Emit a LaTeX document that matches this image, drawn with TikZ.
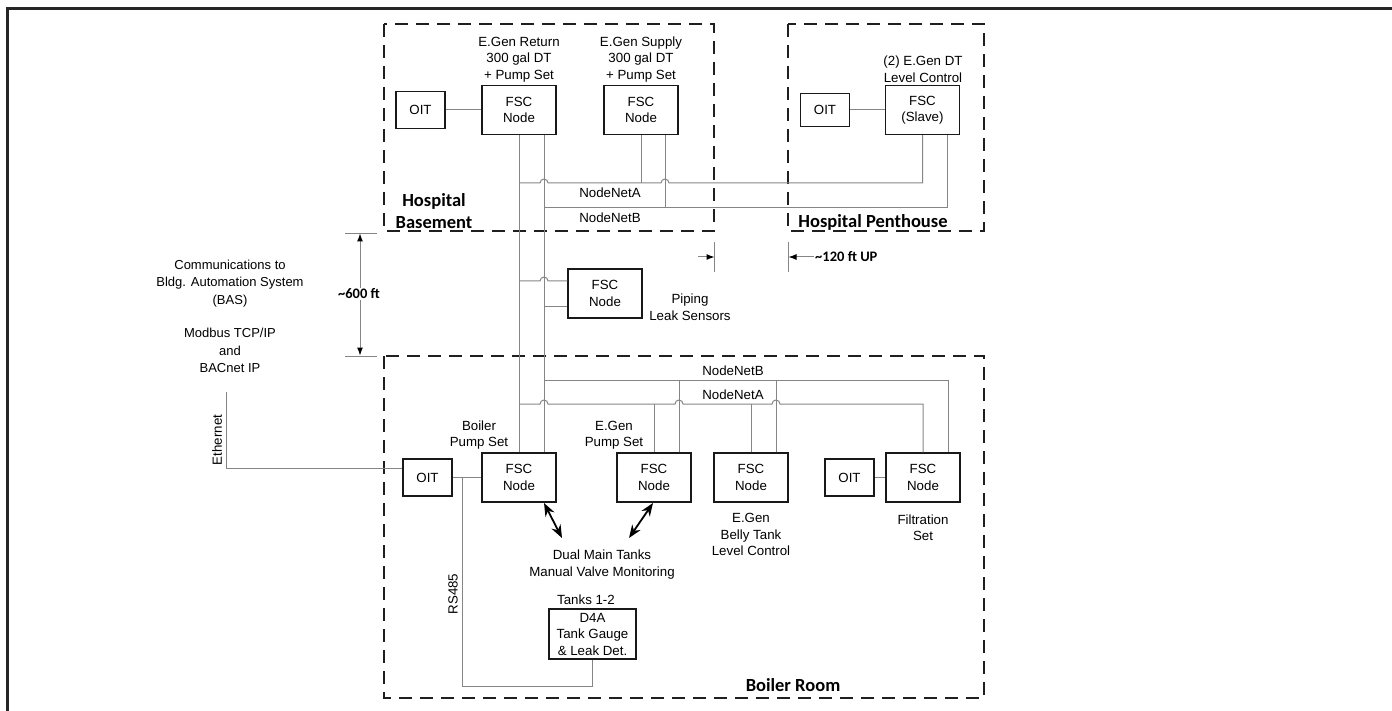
\documentclass[tikz,border=0pt]{standalone}
\usepackage{fontspec}
\setmainfont{Liberation Sans}
\newfontfamily\titlefont{Carlito}
\usetikzlibrary{arrows.meta,calc}
\begin{document}
\begin{tikzpicture}[x=1pt,y=-1pt,
  box/.style={draw=black!90,line width=1.2pt,fill=white,inner sep=0pt,align=center,font=\fontsize{13.3}{16.5}\selectfont},
  fsc/.style={box,minimum width=74pt,minimum height=49pt},
  oit/.style={box,minimum width=49pt,minimum height=37pt},
  lbl/.style={align=center,font=\fontsize{13.3}{16.5}\selectfont,inner sep=0pt},
  lblw/.style={lbl,font=\fontsize{13}{17.5}\selectfont},
  ttl/.style={align=center,inner sep=0pt,font=\titlefont\bfseries\fontsize{18.5}{22}\selectfont},
  dimtxt/.style={inner sep=1pt,fill=white,font=\titlefont\bfseries\fontsize{14.5}{16}\selectfont},
  area/.style={draw=black!88,line width=1.2pt,dash pattern=on 13pt off 8pt},
  wire/.style={draw=black!48,line width=1pt},
  ext/.style={draw=black!48,line width=0.9pt},
  dimarr/.style={wire,-{Latex[length=8pt,width=6pt,color=black]}},
  dbl/.style={draw=black,line width=1.8pt,{Stealth[length=13pt,width=10pt]}-{Stealth[length=13pt,width=10pt]}}
]
\useasboundingbox (0,0) rectangle (1392,711);
% outer frame
\draw[line width=3pt,draw=black!85,line join=miter] (7,711) -- (7,8.5) -- (1392,8.5);

% areas
\draw[area] (384,24) rectangle (714,231);
\draw[area] (788,24) rectangle (984,231);
\draw[area] (384,356) rectangle (984,698);

\node[ttl] (tBase) at (434,211) {Hospital\\Basement};
\node[ttl] (tPent) at (873,222) {Hospital Penthouse};
\node[ttl] (tBoil) at (793,685) {Boiler Room};

% ---------- Hospital Basement ----------
\node[oit] (oitA) at (420.5,110) {OIT};
\node[fsc] (fscRet) at (519,110) {FSC\\Node};
\node[fsc] (fscSup) at (641,110) {FSC\\Node};
\node[lbl] (lRet) at (519,59.5) {E.Gen Return\\300 gal DT\\+ Pump Set};
\node[lbl] (lSup) at (641,59.5) {E.Gen Supply\\300 gal DT\\+ Pump Set};

% ---------- Hospital Penthouse ----------
\node[oit,minimum height=33pt] (oitP) at (825,110) {OIT};
\node[fsc] (fscSl) at (922.5,110) {FSC\\(Slave)};
\node[lbl] (lSl) at (923,69) {(2) E.Gen DT\\Level Control};

\draw[wire] (oitA) -- (fscRet);
\draw[wire] (oitP) -- (fscSl);

% net rows
\coordinate (yA1) at (0,183);
\coordinate (yB1) at (0,208);
\coordinate (yA2) at (0,404);
\coordinate (yB2) at (0,380);

% ---------- Boiler Room nodes ----------
\node[oit] (oitB) at (427.5,477.5) {OIT};
\node[fsc] (fscBoil) at (519,477.5) {FSC\\Node};
\node[fsc] (fscGen) at (654,477.5) {FSC\\Node};
\node[fsc] (fscBelly) at (751,477.5) {FSC\\Node};
\node[oit] (oitF) at (849.5,477.5) {OIT};
\node[fsc] (fscFilt) at (923,477.5) {FSC\\Node};

\node[lbl] (lBoil) at (479,435) {Boiler\\Pump Set};
\node[lbl] (lGen) at (614,435) {E.Gen\\Pump Set};
\node[lbl] (lBelly) at (751,534.5) {E.Gen\\Belly Tank\\Level Control};
\node[lbl] (lFilt) at (923,527.5) {Filtration\\Set};
\node[lbl] (lDual) at (602,564.5) {Dual Main Tanks\\Manual Valve Monitoring};

\node[lbl] (lTanks) at (586,600) {Tanks 1-2};
\node[box,minimum width=87pt,minimum height=50pt] (d4a) at (592.5,634) {D4A\\Tank Gauge\\\&~Leak Det.};

% ---------- Piping leak sensors ----------
\node[fsc] (fscPipe) at (605,293.5) {FSC\\Node};
\node[lbl] (lPipe) at (690,307) {Piping\\Leak Sensors};

% trunks
\draw[wire] (fscRet.south) -- (fscBoil.north);
\draw[wire] ([xshift=25pt]fscRet.south) -- ([xshift=25pt]fscBoil.north);

% basement NodeNetA (jumps over 544 and 665)
\draw[wire] (fscRet.south |- yA1) -- (540,183) arc[start angle=180,end angle=0,radius=4pt]
  -- (661,183) arc[start angle=180,end angle=0,radius=4pt]
  -- (fscSl.south |- yA1) -- (fscSl.south);
\draw[wire] (fscSup.south) -- (fscSup.south |- yA1);
% basement NodeNetB
\draw[wire] ([xshift=25pt]fscRet.south |- yB1) -- ([xshift=25pt]fscSl.south |- yB1) -- ([xshift=25pt]fscSl.south);
\draw[wire] ([xshift=24pt]fscSup.south) -- ([xshift=24pt]fscSup.south |- yB1);
\node[lbl] (nA1) at (610,193) {NodeNetA};
\node[lbl] (nB1) at (610,218) {NodeNetB};

% piping leak connections
\draw[wire] (fscRet.south |- 0,281) -- (540,281) arc[start angle=180,end angle=0,radius=4pt] -- (fscPipe.west |- 0,281);
\draw[wire] ([xshift=25pt]fscRet.south |- 0,307) -- (fscPipe.west |- 0,307);

% boiler NodeNetB
\draw[wire] ([xshift=25pt]fscBoil.north |- yB2) -- ([xshift=25pt]fscFilt.north |- yB2) -- ([xshift=25pt]fscFilt.north);
\draw[wire] ([xshift=25pt]fscGen.north) -- ([xshift=25pt]fscGen.north |- yB2);
\draw[wire] ([xshift=25pt]fscBelly.north) -- ([xshift=25pt]fscBelly.north |- yB2);
% boiler NodeNetA
\draw[wire] (fscBoil.north |- yA2) -- (540,404) arc[start angle=180,end angle=0,radius=4pt]
  -- (675,404) arc[start angle=180,end angle=0,radius=4pt]
  -- (772,404) arc[start angle=180,end angle=0,radius=4pt]
  -- (fscFilt.north |- yA2) -- (fscFilt.north);
\draw[wire] (fscGen.north) -- (fscGen.north |- yA2);
\draw[wire] (fscBelly.north) -- (fscBelly.north |- yA2);
\node[lbl] (nB2) at (733,371) {NodeNetB};
\node[lbl] (nA2) at (733,395) {NodeNetA};

% OIT links in boiler room
\draw[wire] (oitB) -- (fscBoil);
\draw[wire] (oitF) -- (fscFilt);

% RS485
\coordinate (jRS) at (462,477.5);
\coordinate (yRS) at (0,686);
\draw[wire] (jRS) -- (jRS |- yRS) -- (d4a.south |- yRS) -- (d4a.south);
\node[lbl,rotate=90] (tRS) at (453,594) {RS485};

% Ethernet
\coordinate (eth) at (226,392);
\draw[wire] (eth) -- (eth |- 0,468) -- ([yshift=9.5pt]oitB.west);
\node[lbl,rotate=90] (tEth) at (217,440) {Ethernet};

% double arrows
\coordinate (dmA) at (562,538);
\coordinate (dmB) at (629,538);
\draw[dbl] (544,503) -- (dmA);
\draw[dbl] (653,503) -- (dmB);

% BAS text
\node[lblw] (tBAS) at (230,283.5) {Communications to\\Bldg. Automation System\\(BAS)};
\node[lblw] (tMod) at (230,350.5) {Modbus TCP/IP\\and\\BACnet IP};

% ~600 ft dimension
\draw[ext] (345,233) -- (377,233);
\draw[ext] (345,356) -- (377,356);
\node[dimtxt] (t600) at (359,294) {\textasciitilde600 ft};
\coordinate (d600a) at (360,233.5);
\coordinate (d600b) at (360,355.5);
\draw[dimarr] (t600.north -| d600a) -- (d600a);
\draw[dimarr] (t600.south -| d600b) -- (d600b);

% ~120 ft UP dimension
\draw[ext] (714.5,242) -- (714.5,272);
\draw[ext] (788.5,242) -- (788.5,272);
\coordinate (d120a) at (714.5,257);
\coordinate (d120b) at (788.5,257);
\node[dimtxt,anchor=west,fill=none] (t120) at (814,257) {\textasciitilde120 ft UP};
\draw[dimarr] (698,257) -- (d120a);
\draw[dimarr] (t120.west) -- (d120b);
\end{tikzpicture}
\end{document}
